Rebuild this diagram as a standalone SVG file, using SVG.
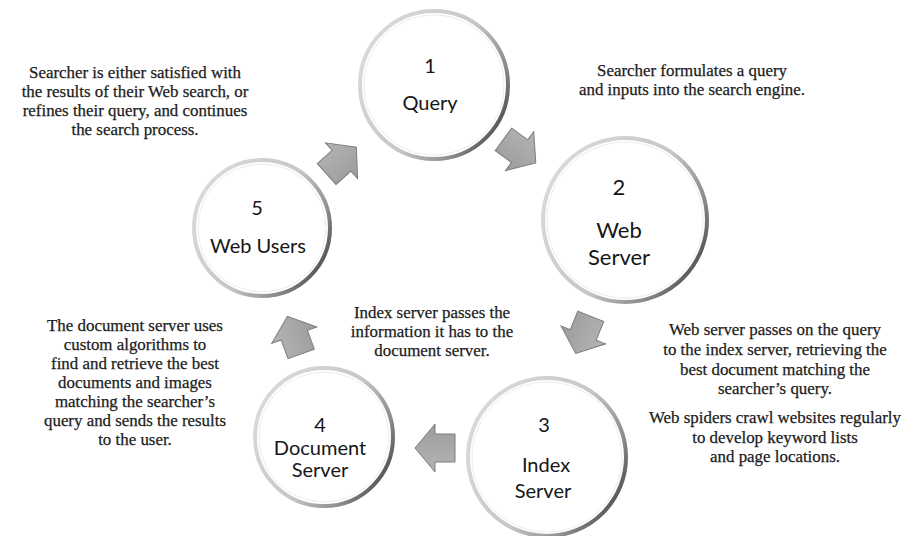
<svg xmlns="http://www.w3.org/2000/svg" width="909" height="536" viewBox="0 0 909 536">
  <defs>
    <style>
      .note { font-family: "Liberation Serif", "Times New Roman", serif; font-size: 16.9px; fill: #1c1c1c; stroke: #1c1c1c; stroke-width: 0.25; text-anchor: middle; }
      .label { font-family: Lato, "Open Sans", sans-serif; font-size: 20px; fill: #161616; text-anchor: middle; }
      .label.big { font-size: 22px; }
      .disc { fill: #ffffff; stroke: url(#rim); stroke-width: 4; }
      .inner { fill: none; stroke: #ececec; stroke-width: 1; }
      .arrow { fill: url(#arrowFill); stroke: #7d7d7d; stroke-width: 1; stroke-linejoin: miter; }
    </style>
    <linearGradient id="rim" x1="0" y1="0.15" x2="1" y2="0.75">
      <stop offset="0" stop-color="#dcdcdc"/>
      <stop offset="0.55" stop-color="#c6c6c6"/>
      <stop offset="0.82" stop-color="#8c8c8c"/>
      <stop offset="1" stop-color="#4c4c4c"/>
    </linearGradient>
    <linearGradient id="arrowFill" x1="0" y1="0" x2="0" y2="1">
      <stop offset="0" stop-color="#b4b4b4"/>
      <stop offset="1" stop-color="#9c9c9c"/>
    </linearGradient>
    <!-- block arrow pointing along +x, centred near the origin -->
    <path id="blockArrow" d="M-18,-14 L2,-14 L2,-24 L22,0 L2,24 L2,14 L-18,14 Z"/>
  </defs>

  <rect width="909" height="536" fill="#ffffff"/>

  <!-- cycle arrows between the stages -->
  <g id="connectors">
    <use href="#blockArrow" class="arrow" transform="translate(340,162) rotate(-42)"/>
    <use href="#blockArrow" class="arrow" transform="translate(518,150) rotate(36)"/>
    <use href="#blockArrow" class="arrow" transform="translate(584,333) rotate(112)"/>
    <use href="#blockArrow" class="arrow" transform="translate(437,448) rotate(180)"/>
    <use href="#blockArrow" class="arrow" transform="translate(295,337) rotate(-110)"/>
  </g>

  <g id="node-query">
    <circle class="disc" cx="434" cy="85" r="74"/>
    <circle class="inner" cx="434" cy="85" r="70"/>
    <text class="label" x="430" y="73">1</text>
    <text class="label" x="430" y="110">Query</text>
  </g>

  <g id="node-web-server">
    <circle class="disc" cx="625" cy="220" r="82"/>
    <circle class="inner" cx="625" cy="220" r="78"/>
    <text class="label big" x="619" y="195">2</text>
    <text class="label big" x="619" y="238">Web</text>
    <text class="label big" x="619" y="265">Server</text>
  </g>

  <g id="node-index-server">
    <circle class="disc" cx="547" cy="457" r="79"/>
    <circle class="inner" cx="547" cy="457" r="75"/>
    <text class="label" x="544" y="432">3</text>
    <text class="label" x="546" y="472">Index</text>
    <text class="label" x="543" y="498">Server</text>
  </g>

  <g id="node-document-server">
    <circle class="disc" cx="324" cy="437" r="69"/>
    <circle class="inner" cx="324" cy="437" r="65"/>
    <text class="label" x="320" y="432">4</text>
    <text class="label" x="320" y="455">Document</text>
    <text class="label" x="320" y="477">Server</text>
  </g>

  <g id="node-web-users">
    <circle class="disc" cx="262" cy="228" r="68"/>
    <circle class="inner" cx="262" cy="228" r="64"/>
    <text class="label" x="257" y="215">5</text>
    <text class="label" x="258" y="253">Web Users</text>
  </g>

  <!-- explanatory notes -->
  <g id="notes">
    <text class="note" x="135" y="78">Searcher is either satisfied with</text>
    <text class="note" x="135" y="97">the results of their Web search, or</text>
    <text class="note" x="135" y="116">refines their query, and continues</text>
    <text class="note" x="135" y="135">the search process.</text>

    <text class="note" x="692" y="76">Searcher formulates a query</text>
    <text class="note" x="692" y="95">and inputs into the search engine.</text>

    <text class="note" x="432" y="318">Index server passes the</text>
    <text class="note" x="432" y="337">information it has to the</text>
    <text class="note" x="432" y="356">document server.</text>

    <text class="note" x="135" y="331">The document server uses</text>
    <text class="note" x="135" y="350">custom algorithms to</text>
    <text class="note" x="135" y="369">find and retrieve the best</text>
    <text class="note" x="135" y="388">documents and images</text>
    <text class="note" x="135" y="407">matching the searcher’s</text>
    <text class="note" x="135" y="426">query and sends the results</text>
    <text class="note" x="135" y="445">to the user.</text>

    <text class="note" x="775" y="335">Web server passes on the query</text>
    <text class="note" x="775" y="355">to the index server, retrieving the</text>
    <text class="note" x="775" y="375">best document matching the</text>
    <text class="note" x="775" y="394">searcher’s query.</text>

    <text class="note" x="775" y="423">Web spiders crawl websites regularly</text>
    <text class="note" x="775" y="443">to develop keyword lists</text>
    <text class="note" x="775" y="462">and page locations.</text>
  </g>
</svg>
